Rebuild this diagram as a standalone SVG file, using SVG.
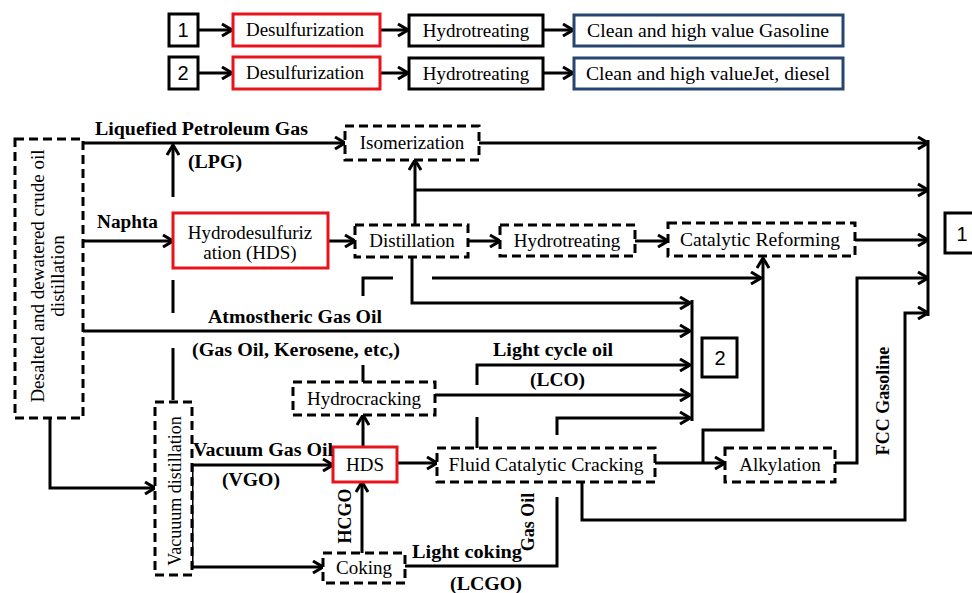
<svg xmlns="http://www.w3.org/2000/svg" width="972" height="593" viewBox="0 0 972 593">
<defs>
<marker id="ah" viewBox="0 0 12 14" refX="11" refY="7" markerWidth="12" markerHeight="14" orient="auto" markerUnits="userSpaceOnUse">
<path d="M1,1 L11,7 L1,13" fill="none" stroke="#000" stroke-width="3"/>
</marker>
<style>
.n{font-family:"Liberation Serif",serif;font-size:19px;fill:#000;text-anchor:middle}
.l{font-family:"Liberation Serif",serif;font-size:18px;font-weight:bold;fill:#000}
.s{font-family:"Liberation Sans",sans-serif;font-size:20px;fill:#000;text-anchor:middle}
.dash{fill:#fff;stroke:#000;stroke-width:3;stroke-dasharray:9 5}
.red{fill:#fff;stroke:#e8141c;stroke-width:3}
.blk{fill:#fff;stroke:#000;stroke-width:3}
.blue{fill:#fff;stroke:#24466f;stroke-width:3}
.c{fill:none;stroke:#000;stroke-width:3}
.a{marker-end:url(#ah)}
</style>
</defs>
<rect width="972" height="593" fill="#fff"/>

<g id="connectors">
<!-- legend -->
<path class="c a" d="M198,30 H232"/>
<path class="c a" d="M380,30 H408"/>
<path class="c a" d="M543,30 H573"/>
<path class="c a" d="M198,73 H232"/>
<path class="c a" d="M380,73 H408"/>
<path class="c a" d="M543,73 H573"/>
<!-- main -->
<path class="c a" d="M83,143 H345"/>
<path class="c a" d="M173,197 V145"/>
<path class="c a" d="M83,241 H173"/>
<path class="c a" d="M328,241 H355"/>
<path class="c a" d="M415,225 V160"/>
<path class="c a" d="M415,190 H928"/>
<path class="c a" d="M479,143 H928"/>
<path class="c a" d="M468,241 H500"/>
<path class="c a" d="M635,241 H668"/>
<path class="c a" d="M855,240 H928"/>
<path class="c" d="M928,140 V316"/>
<path class="c a" d="M412,257 V303 H690"/>
<path class="c a" d="M83,331 H690"/>
<path class="c" d="M692,300 V421"/>
<path class="c" d="M173,400 V348 M173,313 V280"/>
<path class="c" d="M363,382 V365"/>
<path class="c" d="M363,296 V278 H393"/>
<path class="c a" d="M432,278 H761"/>
<path class="c a" d="M655,463 H725"/>
<path class="c a" d="M703,463 V430 H763 V258"/>
<path class="c a" d="M835,463 H857 V278 H928"/>
<path class="c a" d="M582,482 V520 H905 V313 H928"/>
<path class="c" d="M477,448 V417"/>
<path class="c a" d="M477,385 V365 H690"/>
<path class="c a" d="M435,395 H690"/>
<path class="c a" d="M557,435 V418 H690"/>
<path class="c a" d="M50,418 V488 H155"/>
<path class="c a" d="M192,465 H333"/>
<path class="c a" d="M192,465 V567 H323"/>
<path class="c a" d="M397,463 H437"/>
<path class="c a" d="M363,447 V415"/>
<path class="c a" d="M362,553 V482"/>
<path class="c" d="M405,566 H557 V497"/>
</g>

<g id="legend1">
<rect class="blk" x="169" y="14" width="29" height="32"/><text class="s" x="183" y="37">1</text>
</g>
<g id="legend1-desulf"><rect class="red" x="233" y="14" width="147" height="32"/><text class="n" x="305" y="36">Desulfurization</text></g>
<g id="legend1-hydro"><rect class="blk" x="409" y="15" width="134" height="31"/><text class="n" x="476" y="37">Hydrotreating</text></g>
<g id="legend1-out"><rect class="blue" x="574" y="15" width="269" height="31"/><text class="n" x="708" y="37" textLength="242" lengthAdjust="spacingAndGlyphs">Clean and high value Gasoline</text></g>

<g id="legend2">
<rect class="blk" x="169" y="57" width="29" height="32"/><text class="s" x="183" y="80">2</text>
</g>
<g id="legend2-desulf"><rect class="red" x="233" y="57" width="147" height="32"/><text class="n" x="305" y="79">Desulfurization</text></g>
<g id="legend2-hydro"><rect class="blk" x="409" y="58" width="134" height="31"/><text class="n" x="476" y="80">Hydrotreating</text></g>
<g id="legend2-out"><rect class="blue" x="574" y="58" width="269" height="31"/><text class="n" x="708" y="80" textLength="244" lengthAdjust="spacingAndGlyphs">Clean and high valueJet, diesel</text></g>

<g id="crude">
<rect class="dash" x="15" y="139" width="68" height="279"/>
<text class="n" transform="translate(44,276) rotate(-90)">Desalted and dewatered crude oil</text>
<text class="n" transform="translate(64,276) rotate(-90)">distillation</text>
</g>
<g id="hds1"><rect class="red" x="173" y="213" width="155" height="55"/>
<text class="n" x="250" y="239">Hydrodesulfuriz</text><text class="n" x="250" y="259">ation (HDS)</text></g>
<g id="isomerization"><rect class="dash" x="345" y="126" width="134" height="34"/><text class="n" x="412" y="149">Isomerization</text></g>
<g id="distillation"><rect class="dash" x="355" y="225" width="113" height="32"/><text class="n" x="412" y="247">Distillation</text></g>
<g id="hydrotreating"><rect class="dash" x="500" y="225" width="135" height="31"/><text class="n" x="567" y="247">Hydrotreating</text></g>
<g id="reforming"><rect class="dash" x="668" y="223" width="187" height="33"/><text class="n" x="760" y="246" textLength="160" lengthAdjust="spacingAndGlyphs">Catalytic  Reforming</text></g>
<g id="out1"><rect class="blk" x="945" y="213" width="40" height="40"/><text class="s" x="962" y="241">1</text></g>
<g id="out2"><rect class="blk" x="702" y="338" width="35" height="39"/><text class="s" x="720" y="365">2</text></g>
<g id="vacuum"><rect class="dash" x="155" y="402" width="37" height="173"/>
<text class="n" style="font-size:18px" transform="translate(181,491) rotate(-90)">Vacuuum distillation</text></g>
<g id="hydrocracking"><rect class="dash" x="293" y="382" width="142" height="33"/><text class="n" x="364" y="405">Hydrocracking</text></g>
<g id="hds2"><rect class="red" x="333" y="447" width="64" height="35"/><text class="n" x="365" y="471">HDS</text></g>
<g id="fcc"><rect class="dash" x="437" y="448" width="218" height="34"/><text class="n" x="546" y="471" textLength="195" lengthAdjust="spacingAndGlyphs">Fluid  Catalytic  Cracking</text></g>
<g id="alkylation"><rect class="dash" x="725" y="448" width="110" height="34"/><text class="n" x="780" y="471">Alkylation</text></g>
<g id="coking"><rect class="dash" x="323" y="553" width="82" height="30"/><text class="n" x="364" y="574">Coking</text></g>

<g id="labels">
<text class="l" x="95" y="135" textLength="213" lengthAdjust="spacingAndGlyphs">Liquefied Petroleum Gas</text>
<text class="l" x="188" y="168" textLength="54" lengthAdjust="spacingAndGlyphs">(LPG)</text>
<text class="l" x="97" y="228" textLength="61" lengthAdjust="spacingAndGlyphs">Naphta</text>
<text class="l" x="208" y="323" textLength="174" lengthAdjust="spacingAndGlyphs">Atmostheric Gas Oil</text>
<text class="l" x="192" y="356" textLength="208" lengthAdjust="spacingAndGlyphs">(Gas Oil, Kerosene, etc,)</text>
<text class="l" x="493" y="356" textLength="120" lengthAdjust="spacingAndGlyphs">Light cycle oil</text>
<text class="l" x="530" y="386" textLength="55" lengthAdjust="spacingAndGlyphs">(LCO)</text>
<text class="l" x="193" y="456" textLength="140" lengthAdjust="spacingAndGlyphs">Vacuum Gas Oil</text>
<text class="l" x="222" y="486" textLength="58" lengthAdjust="spacingAndGlyphs">(VGO)</text>
<text class="l" x="412" y="558" textLength="110" lengthAdjust="spacingAndGlyphs">Light coking</text>
<text class="l" x="450" y="590" textLength="72" lengthAdjust="spacingAndGlyphs">(LCGO)</text>
<text class="l" text-anchor="middle" transform="translate(351,516) rotate(-90)">HCGO</text>
<text class="l" text-anchor="middle" transform="translate(534,522) rotate(-90)">Gas Oil</text>
<text class="l" text-anchor="middle" transform="translate(889,401) rotate(-90)">FCC Gasoline</text>
</g>
</svg>
